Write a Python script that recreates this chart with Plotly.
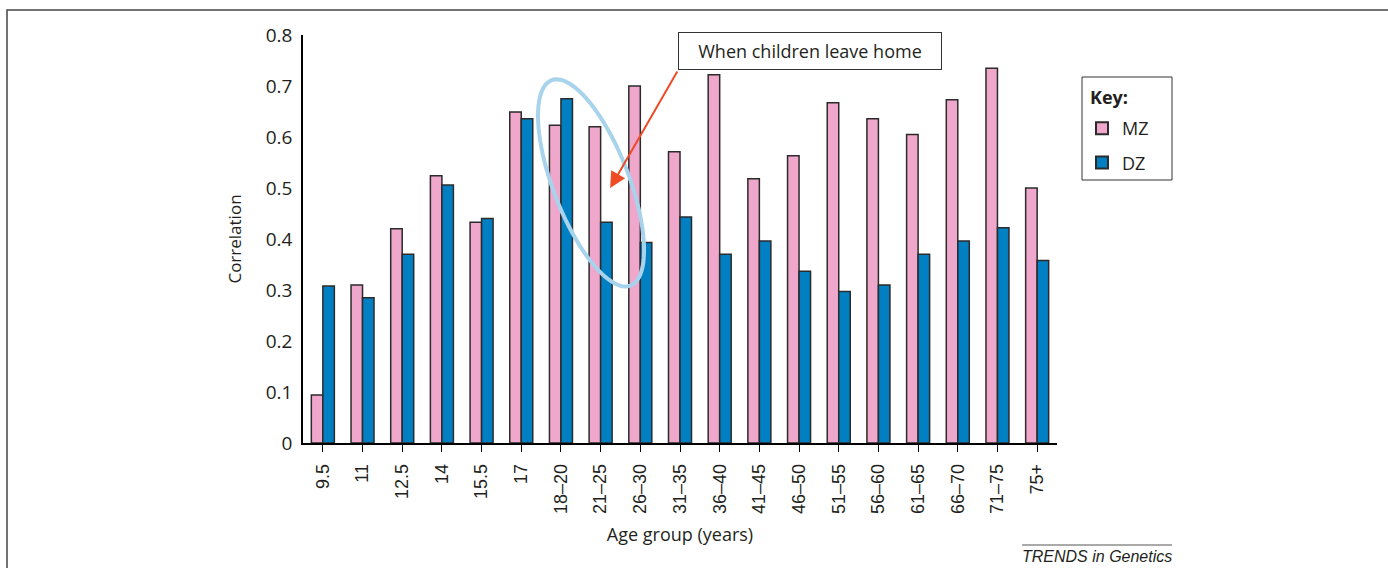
import numpy as np
import plotly.graph_objects as go

categories = ["9.5", "11", "12.5", "14", "15.5", "17", "18–20", "21–25", "26–30", "31–35",
              "36–40", "41–45", "46–50", "51–55", "56–60", "61–65", "66–70", "71–75", "75+"]
mz = [0.094, 0.310, 0.420, 0.524, 0.433, 0.649, 0.623, 0.620, 0.700, 0.571,
      0.722, 0.518, 0.563, 0.667, 0.636, 0.605, 0.673, 0.735, 0.500]
dz = [0.308, 0.285, 0.370, 0.506, 0.440, 0.636, 0.675, 0.433, 0.393, 0.443,
      0.370, 0.396, 0.337, 0.297, 0.310, 0.370, 0.396, 0.422, 0.358]
y_ticks = [0, 0.1, 0.2, 0.3, 0.4, 0.5, 0.6, 0.7, 0.8]
y_tick_text = ["0", "0.1", "0.2", "0.3", "0.4", "0.5", "0.6", "0.7", "0.8"]

PINK = "#EFA7CB"
BLUE = "#0080C3"
EDGE = "#2b2b2b"
TXT = "#231F20"

fig = go.Figure()
fig.add_trace(go.Bar(x=list(range(len(categories))), y=mz, name="MZ", legendgroup="mz",
                     marker=dict(color=PINK, line=dict(color=EDGE, width=1.5))))
fig.add_trace(go.Bar(x=list(range(len(categories))), y=dz, name="DZ", legendgroup="dz",
                     marker=dict(color=BLUE, line=dict(color=EDGE, width=1.5))))

L, R, T, B = 303, 1388 - 1057, 35, 568 - 443
W = 1388 - L - R
H = 568 - T - B
px_per_cat = W / len(categories)
px_per_unit = H / 0.8


def px_x(p):
    return (p - L) / W


def px_y(p):
    return (443 - p) / H


# ellipse highlighting the 18-20 / 21-25 groups (annotation, in axis units)
cx, cy = 6.758, 0.510
a, b, th = 110, 38, np.deg2rad(21)
t = np.linspace(0, 2 * np.pi, 90)
ex_px = a * np.cos(t) * np.sin(th) + b * np.sin(t) * np.cos(th)
ey_px = a * np.cos(t) * np.cos(th) - b * np.sin(t) * np.sin(th)
ex = cx + ex_px / px_per_cat
ey = cy - ey_px / px_per_unit
path = "M " + " L ".join(f"{x:.4f},{y:.4f}" for x, y in zip(ex, ey)) + " Z"
fig.add_shape(type="path", path=path, xref="x", yref="y",
              line=dict(color="#A8D3EC", width=4), layer="above")

# outer frame
fig.add_shape(type="rect", xref="paper", yref="paper",
              x0=px_x(7), x1=3, y0=-3, y1=px_y(10),
              line=dict(color="#444444", width=1.5))

# key box
fig.add_shape(type="rect", xref="paper", yref="paper",
              x0=px_x(1082), x1=px_x(1172), y0=px_y(180), y1=px_y(77),
              line=dict(color="#333333", width=1), fillcolor="white", layer="below")
fig.add_annotation(xref="paper", yref="paper", x=px_x(1088), y=px_y(97),
                   text="<b>Key:</b>", showarrow=False, xanchor="left", yanchor="middle",
                   font=dict(family="Open Sans", size=18, color=TXT))

# TRENDS line
fig.add_shape(type="line", xref="paper", yref="paper",
              x0=px_x(1022), x1=px_x(1172), y0=px_y(545), y1=px_y(545),
              line=dict(color="#555555", width=1))
fig.add_annotation(xref="paper", yref="paper", x=px_x(1020), y=px_y(556),
                   text="<i>TRENDS in Genetics</i>", showarrow=False,
                   xanchor="left", yanchor="middle",
                   font=dict(family="Liberation Sans, Arial", size=16, color=TXT))

# callout box
fig.add_annotation(xref="paper", yref="paper", x=px_x(810), y=px_y(51),
                   text="When children leave home", showarrow=False,
                   xanchor="center", yanchor="middle",
                   width=256, height=30, borderpad=3,
                   bordercolor="#333333", borderwidth=1, bgcolor="white",
                   font=dict(family="Open Sans", size=18, color=TXT))

# arrow
fig.add_annotation(x=7.24, y=0.5, xref="x", yref="y", text="",
                   showarrow=True, ax=68, ay=-118, axref="pixel", ayref="pixel",
                   arrowhead=2, arrowsize=1.6, arrowwidth=2, arrowcolor="#EE4B24",
                   standoff=0)

fig.update_layout(
    width=1388, height=568,
    margin=dict(l=L, r=R, t=T, b=B, autoexpand=False),
    paper_bgcolor="white", plot_bgcolor="white",
    barmode="group", bargap=0.42, bargroupgap=0,
    font=dict(family="Open Sans", color=TXT),
    showlegend=True,
    legend=dict(x=px_x(1082), y=px_y(110), xanchor="left", yanchor="top",
                borderwidth=0, bgcolor="rgba(0,0,0,0)",
                font=dict(size=18, family="Open Sans"),
                traceorder="grouped", tracegroupgap=8,
                itemsizing="constant"),
)

fig.update_xaxes(
    tickmode="array", tickvals=list(range(len(categories))), ticktext=categories,
    range=[-0.5, len(categories) - 0.5],
    tickangle=-90, ticks="outside", ticklen=7, tickcolor="black",
    tickson="boundaries", ticklabelstandoff=5,
    showline=True, linecolor="black", linewidth=1.5, showgrid=False, zeroline=False,
    tickfont=dict(family="Liberation Sans, Arial", size=18, color=TXT),
    title=dict(text="Age group (years)", font=dict(family="Open Sans", size=18, color=TXT), standoff=15),
)
fig.update_yaxes(
    range=[0, 0.8], tickmode="array", tickvals=y_ticks, ticktext=y_tick_text,
    showline=True, linecolor="black", linewidth=1.5, showgrid=False, zeroline=False,
    ticks="", ticklabelstandoff=5, tickfont=dict(family="Open Sans", size=19, color=TXT),
    title=dict(text="Correlation", font=dict(family="Open Sans", size=17, color=TXT), standoff=20),
)

fig.write_html("out.html", config={"displayModeBar": False},
               post_script="document.body.style.margin='0';")
